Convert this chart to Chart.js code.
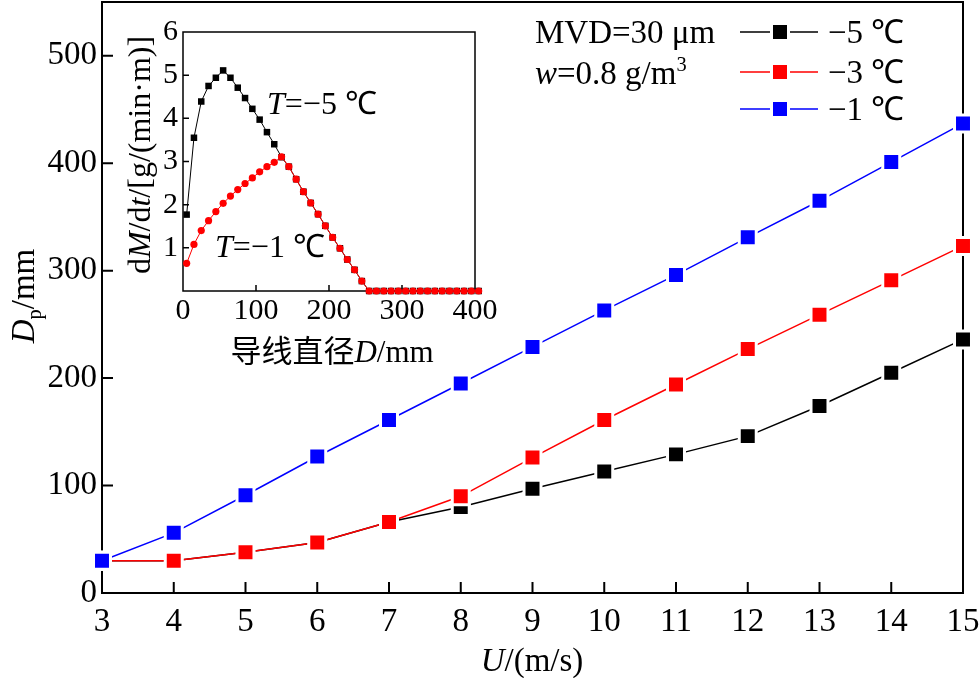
<!DOCTYPE html>
<html>
<head>
<meta charset="utf-8">
<script src="https://cdn.jsdelivr.net/npm/chart.js@4.4.1/dist/chart.umd.min.js"></script>
<style>
  body { margin: 0; background: #fff; }
  #wrap { position: relative; width: 980px; height: 678px; }
  #main { position: absolute; left: 0; top: 0; }
  #inset { position: absolute; left: 110px; top: 0; }
</style>
</head>
<body>
<div id="wrap">
  <canvas id="main" width="980" height="678"></canvas>
  <canvas id="inset" width="390" height="380"></canvas>
</div>
<script>
// main chart: wind speed vs. Dp
const speeds = [3, 4, 5, 6, 7, 8, 9, 10, 11, 12, 13, 14, 15];
const dpMinus5 = [30, 30, 38, 47, 66, 80, 97, 113, 129, 146, 174, 205, 236];
const dpMinus3 = [30, 30, 38, 47, 66, 90, 126, 161, 194, 227, 259, 291, 323];
const dpMinus1 = [30, 56, 91, 127, 161, 195, 229, 263, 296, 331, 365, 401, 437];
const seriesNames = ['\u22125 \u2103', '\u22123 \u2103', '\u22121 \u2103'];
const seriesColors = ['#000000', '#ff0000', '#0000ff'];
const xTicks = [3, 4, 5, 6, 7, 8, 9, 10, 11, 12, 13, 14, 15];
const yTicks = [0, 100, 200, 300, 400, 500];

// inset: wire diameter vs. dM/dt
const diameters = [5, 15, 25, 35, 45, 55, 65, 75, 85, 95, 105, 115, 125, 135,
  145, 155, 165, 175, 185, 195, 205, 215, 225, 235, 245,
  255, 265, 275, 285, 295, 305, 315, 325, 335, 345, 355, 365, 375, 385, 395, 405];
const rateMinus5 = [1.77, 3.55, 4.39, 4.75, 4.94, 5.11, 4.94, 4.71, 4.47, 4.22, 3.97, 3.68, 3.40, 3.10,
  2.88, 2.59, 2.30, 2.04, 1.78, 1.51, 1.24, 0.99, 0.73, 0.49, 0.23,
  0, 0, 0, 0, 0, 0, 0, 0, 0, 0, 0, 0, 0, 0, 0, 0];
const rateMinus1 = [0.64, 1.08, 1.40, 1.63, 1.84, 2.03, 2.20, 2.35, 2.49, 2.62, 2.76, 2.88, 2.98, 3.11,
  2.88, 2.59, 2.30, 2.04, 1.78, 1.51, 1.24, 0.99, 0.73, 0.49, 0.23,
  0, 0, 0, 0, 0, 0, 0, 0, 0, 0, 0, 0, 0, 0, 0, 0];
const insetXTicks = [0, 100, 200, 300, 400];
const insetYTicks = [1, 2, 3, 4, 5, 6];

const serif = '"Liberation Serif", "Times New Roman", serif';
const cjk = '"Noto Sans CJK SC", sans-serif';
const FS = 33;

// draw a line of text made of parts with italic / sub / sup
function richText(ctx, parts, x, y, size, align) {
  let total = 0;
  const items = parts.map(p => {
    const fs = (p.sub || p.sup) ? size * 0.62 : size;
    const font = (p.i ? 'italic ' : '') + fs + 'px ' + (p.cjk ? cjk : serif);
    ctx.font = font;
    const w = ctx.measureText(p.t).width;
    total += w;
    return Object.assign({}, p, { font, w });
  });
  let cx = align === 'center' ? x - total / 2 : x;
  ctx.textAlign = 'left';
  ctx.textBaseline = 'alphabetic';
  items.forEach(p => {
    ctx.font = p.font;
    const dy = p.sub ? size * 0.22 : (p.sup ? -size * 0.4 : 0);
    ctx.fillText(p.t, cx, y + dy);
    cx += p.w;
  });
}

function innerTicks(chart, xs, ys, len, lw) {
  const { ctx, chartArea: a, scales } = chart;
  ctx.save();
  ctx.strokeStyle = '#000';
  ctx.lineWidth = lw;
  ctx.beginPath();
  xs.forEach(v => {
    const px = scales.x.getPixelForValue(v);
    ctx.moveTo(px, a.bottom); ctx.lineTo(px, a.bottom - len);
  });
  ys.forEach(v => {
    const py = scales.y.getPixelForValue(v);
    ctx.moveTo(a.left, py); ctx.lineTo(a.left + len, py);
  });
  ctx.stroke();
  ctx.restore();
}

// chart.js reserves room for half a label at the axis ends; we don't want that
function fixX(h) {
  return s => { s.height = h; s.paddingLeft = 0; s.paddingRight = 0; };
}
function fixY(w) {
  return s => { s.width = w; s.paddingTop = 0; s.paddingBottom = 0; };
}

const mainDecor = {
  id: 'mainDecor',
  beforeDatasetsDraw(chart) {
    const { ctx, chartArea: a } = chart;
    ctx.save();
    ctx.strokeStyle = '#000';
    ctx.lineWidth = 2;
    ctx.strokeRect(a.left, a.top, a.right - a.left, a.bottom - a.top);
    ctx.restore();
    innerTicks(chart, xTicks.slice(1, -1), yTicks.slice(1), 11, 2);
  },
  afterDraw(chart) {
    const ctx = chart.ctx;
    ctx.save();
    ctx.fillStyle = '#000';
    // axis titles
    richText(ctx, [{ t: 'U', i: true }, { t: '/(m/s)' }], 532, 671, FS, 'center');
    ctx.save();
    ctx.translate(34, 296);
    ctx.rotate(-Math.PI / 2);
    richText(ctx, [{ t: 'D', i: true }, { t: 'p', sub: true }, { t: '/mm' }], 0, 0, FS, 'center');
    ctx.restore();
    // condition text
    richText(ctx, [{ t: 'MVD=30 \u03bcm' }], 535, 43, FS, 'left');
    richText(ctx, [{ t: 'w', i: true }, { t: '=0.8 g/m' }, { t: '3', sup: true }], 535, 84, FS, 'left');
    // legend
    const rows = [32, 72, 109];
    rows.forEach((ry, k) => {
      ctx.strokeStyle = seriesColors[k];
      ctx.lineWidth = 1.5;
      ctx.beginPath();
      ctx.moveTo(740, ry); ctx.lineTo(770, ry);
      ctx.moveTo(790, ry); ctx.lineTo(818, ry);
      ctx.stroke();
      ctx.fillStyle = seriesColors[k];
      ctx.fillRect(773, ry - 7, 14, 14);
      ctx.fillStyle = '#000';
      richText(ctx, [{ t: seriesNames[k] }], 828, ry + 11, FS, 'left');
    });
    ctx.restore();
  }
};

function lineSet(label, values, color, order) {
  return {
    label,
    data: speeds.map((s, i) => ({ x: s, y: values[i] })),
    borderColor: color,
    backgroundColor: color,
    borderWidth: 1.5,
    pointStyle: 'rect',
    pointRadius: 12,
    pointBorderColor: '#ffffff',
    pointBorderWidth: 3,
    pointBackgroundColor: color,
    tension: 0,
    clip: false,
    order
  };
}

new Chart(document.getElementById('main'), {
  type: 'line',
  data: {
    datasets: [
      lineSet(seriesNames[0], dpMinus5, seriesColors[0], 3),
      lineSet(seriesNames[1], dpMinus3, seriesColors[1], 2),
      lineSet(seriesNames[2], dpMinus1, seriesColors[2], 1)
    ]
  },
  options: {
    responsive: false,
    animation: false,
    events: [],
    layout: { autoPadding: false, padding: { left: 0, right: 17, top: 2, bottom: 0 } },
    plugins: { legend: { display: false }, tooltip: { enabled: false } },
    scales: {
      x: {
        type: 'linear',
        min: 3,
        max: 15,
        afterBuildTicks: s => { s.ticks = xTicks.map(v => ({ value: v })); },
        afterFit: fixX(85),
        grid: { display: false, drawTicks: false },
        border: { display: false },
        ticks: { color: '#000', padding: 10, maxRotation: 0, font: { family: serif, size: FS } }
      },
      y: {
        min: 0,
        max: 550,
        afterBuildTicks: s => { s.ticks = yTicks.map(v => ({ value: v })); },
        afterFit: fixY(102),
        grid: { display: false, drawTicks: false },
        border: { display: false },
        ticks: { color: '#000', padding: 5, font: { family: serif, size: FS } }
      }
    }
  },
  plugins: [mainDecor]
});

const insetDecor = {
  id: 'insetDecor',
  beforeDatasetsDraw(chart) {
    const { ctx, chartArea: a } = chart;
    ctx.save();
    ctx.strokeStyle = '#000';
    ctx.lineWidth = 1.5;
    ctx.strokeRect(a.left, a.top, a.right - a.left, a.bottom - a.top);
    ctx.restore();
    innerTicks(chart, [100, 200, 300], [1, 2, 3, 4, 5], 6, 1.5);
  },
  afterDraw(chart) {
    const ctx = chart.ctx;
    ctx.save();
    ctx.fillStyle = '#000';
    // annotations (inset canvas starts at x = 110)
    richText(ctx, [{ t: 'T', i: true }, { t: '=\u22125 \u2103' }], 157, 114, 32, 'left');
    richText(ctx, [{ t: 'T', i: true }, { t: '=\u22121 \u2103' }], 105, 257, 32, 'left');
    richText(ctx, [{ t: '\u5bfc\u7ebf\u76f4\u5f84', cjk: true }, { t: 'D', i: true }, { t: '/mm' }], 222, 362, 31, 'center');
    ctx.save();
    ctx.translate(40, 155);
    ctx.rotate(-Math.PI / 2);
    richText(ctx, [{ t: 'd' }, { t: 'M', i: true }, { t: '/d' }, { t: 't', i: true }, { t: '/[g/(min\u00b7m)]' }], 0, 0, 32, 'center');
    ctx.restore();
    ctx.restore();
  }
};

new Chart(document.getElementById('inset'), {
  type: 'line',
  data: {
    datasets: [
      {
        label: 'T=-1',
        data: diameters.map((d, i) => ({ x: d, y: rateMinus1[i] })),
        borderColor: '#ff0000',
        backgroundColor: '#ff0000',
        borderWidth: 1,
        pointStyle: 'circle',
        pointRadius: 3.6,
        pointBorderWidth: 0,
        clip: false,
        order: 1
      },
      {
        label: 'T=-5',
        data: diameters.map((d, i) => ({ x: d, y: rateMinus5[i] })),
        borderColor: '#000000',
        backgroundColor: '#000000',
        borderWidth: 1,
        pointStyle: 'rect',
        pointRadius: 4.6,
        pointBorderWidth: 0,
        clip: false,
        order: 2
      }
    ]
  },
  options: {
    responsive: false,
    animation: false,
    events: [],
    layout: { autoPadding: false, padding: { left: 0, right: 25, top: 32, bottom: 0 } },
    plugins: { legend: { display: false }, tooltip: { enabled: false } },
    scales: {
      x: {
        type: 'linear',
        min: 0,
        max: 400,
        afterBuildTicks: s => { s.ticks = insetXTicks.map(v => ({ value: v })); },
        afterFit: fixX(89),
        grid: { display: false, drawTicks: false },
        border: { display: false },
        ticks: { color: '#000', padding: 2, maxRotation: 0, font: { family: serif, size: 30 } }
      },
      y: {
        min: 0,
        max: 6,
        afterBuildTicks: s => { s.ticks = insetYTicks.map(v => ({ value: v })); },
        afterFit: fixY(73),
        grid: { display: false, drawTicks: false },
        border: { display: false },
        ticks: { color: '#000', padding: 5, font: { family: serif, size: 30 } }
      }
    }
  },
  plugins: [insetDecor]
});
</script>
</body>
</html>
